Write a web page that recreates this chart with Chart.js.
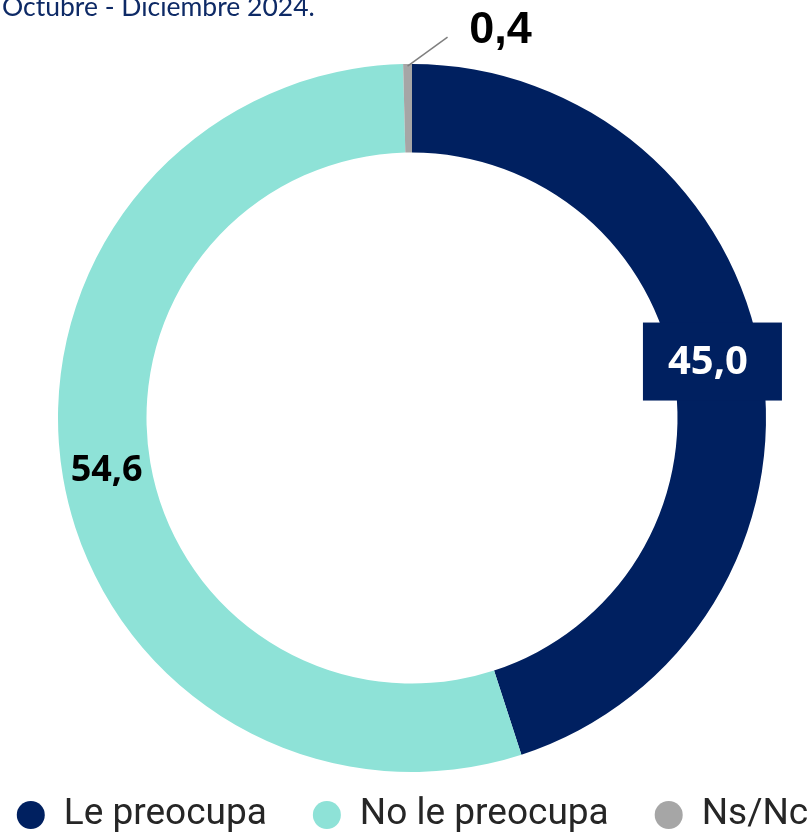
<!DOCTYPE html>
<html>
<head>
<meta charset="utf-8">
<script src="https://cdn.jsdelivr.net/npm/chart.js@4"></script>
<style>
  html, body { margin: 0; padding: 0; background: #fff; }
  #wrap { width: 810px; height: 833px; position: relative; }
</style>
</head>
<body>
<div id="wrap"><canvas id="myCanvas" width="810" height="833"></canvas></div>
<script>
const title = 'Octubre - Diciembre 2024.';
const labels = ['Le preocupa', 'No le preocupa', 'Ns/Nc'];
const values = [45.0, 54.6, 0.4];
const colors = ['#002060', '#8EE2D7', '#A6A6A6'];

const fmt = v => v.toFixed(1).replace('.', ',');

// etiquetas de valor + título + leyenda
const extras = {
    id: 'extras',
    afterDraw(chart) {
        const ctx = chart.ctx;
        const meta = chart.getDatasetMeta(0);
        ctx.save();

        // título (cortado arriba como en el original)
        ctx.fillStyle = '#0E2A66';
        ctx.font = '26.5px Lato';
        ctx.textAlign = 'left';
        ctx.textBaseline = 'alphabetic';
        ctx.fillText(title, 2, 16);

        meta.data.forEach((arc, i) => {
            const p = arc.getProps(['x', 'y', 'startAngle', 'endAngle', 'innerRadius', 'outerRadius'], true);
            const mid = (p.startAngle + p.endAngle) / 2;
            const r = (p.innerRadius + p.outerRadius) / 2;
            const cx = p.x + Math.cos(mid) * r;
            const cy = p.y + Math.sin(mid) * r;
            const txt = fmt(values[i]);
            ctx.textAlign = 'center';
            ctx.textBaseline = 'middle';
            if (i === 0) {
                const bx = cx - 5, by = cy - 8;
                ctx.fillStyle = colors[0];
                ctx.fillRect(bx - 70, by - 39, 139, 78);
                ctx.fillStyle = '#fff';
                ctx.font = 'bold 40px "Open Sans"';
                ctx.fillText(txt, bx - 5, by + 1);
            } else if (i === 1) {
                ctx.fillStyle = '#000';
                ctx.font = 'bold 36px "Open Sans"';
                ctx.fillText(txt, cx, cy);
            } else {
                const ox = p.x + Math.cos(mid) * p.outerRadius;
                const oy = p.y + Math.sin(mid) * p.outerRadius;
                ctx.strokeStyle = '#7F7F7F';
                ctx.lineWidth = 1.5;
                ctx.beginPath();
                ctx.moveTo(ox, oy + 2);
                ctx.lineTo(ox + 40, oy - 27);
                ctx.stroke();
                ctx.fillStyle = '#000';
                ctx.font = 'bold 45px "Liberation Sans"';
                ctx.fillText(txt, ox + 93, oy - 33);
            }
        });

        // leyenda
        ctx.font = '37px Roboto';
        ctx.textAlign = 'left';
        ctx.textBaseline = 'middle';
        const gap = 46, dot = 14, tx = 33;
        const widths = labels.map(l => dot + tx + ctx.measureText(l).width);
        let total = gap * (labels.length - 1);
        widths.forEach(w => total += w);
        let x = 412.5 - total / 2;
        const y = 815;
        labels.forEach((l, i) => {
            ctx.fillStyle = colors[i];
            ctx.beginPath();
            ctx.arc(x + dot, y, dot, 0, Math.PI * 2);
            ctx.fill();
            ctx.fillStyle = '#262626';
            ctx.fillText(l, x + dot + tx, y);
            x += widths[i] + gap;
        });
        ctx.restore();
    }
};

new Chart(document.getElementById('myCanvas'), {
    type: 'doughnut',
    data: {
        labels: labels,
        datasets: [{
            data: values,
            backgroundColor: colors,
            borderWidth: 0
        }]
    },
    options: {
        responsive: false,
        animation: false,
        cutout: '75%',
        layout: { padding: { top: 64, bottom: 61, left: 14, right: 0 } },
        plugins: {
            legend: { display: false },
            tooltip: { enabled: false }
        }
    },
    plugins: [extras]
});
</script>
</body>
</html>
